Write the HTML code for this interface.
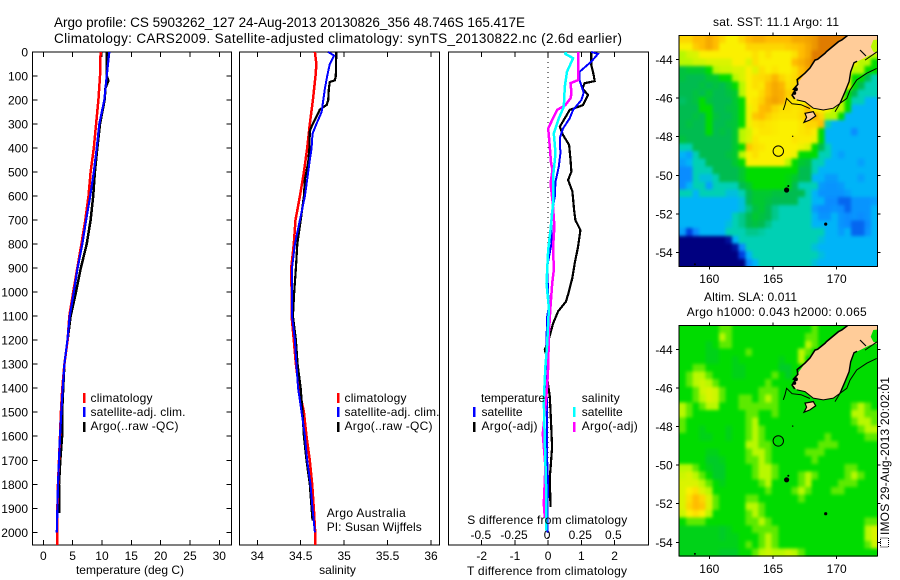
<!DOCTYPE html>
<html><head><meta charset="utf-8"><title>Argo profile</title>
<style>
html,body{margin:0;padding:0;background:#fff;width:900px;height:580px;overflow:hidden}
svg{display:block}
text{font-family:"Liberation Sans",sans-serif;font-size:12px;fill:#000}
</style></head>
<body>
<svg id="fig" width="900" height="580" viewBox="0 0 900 580">
<defs>
<filter id="mapBlur" x="-5%" y="-5%" width="110%" height="110%" color-interpolation-filters="sRGB"><feGaussianBlur stdDeviation="1.7"/></filter>
<clipPath id="clip-sst-map"><rect x="679.3" y="35.3" width="198" height="231.4"/></clipPath>
<clipPath id="clip-sla-map"><rect x="679.3" y="325.3" width="198" height="231.4"/></clipPath>
</defs>
<text x="54" y="27" style="font-size:13.5px" textLength="471">Argo profile: CS 5903262_127 24-Aug-2013 20130826_356 48.746S 165.417E</text>
<text x="54" y="43" style="font-size:13.5px" textLength="568">Climatology: CARS2009. Satellite-adjusted climatology: synTS_20130822.nc (2.6d earlier)</text>
<g id="plots"></g>
<g>
<rect x="83" y="393" width="2.5" height="10" fill="#f00"/>
<rect x="83" y="407" width="2.5" height="10" fill="#00f"/>
<rect x="83" y="422" width="2.5" height="10" fill="#000"/>
<text x="90.5" y="402" textLength="62">climatology</text>
<text x="90.5" y="416" textLength="95">satellite-adj. clim.</text>
<text x="90.5" y="430" textLength="88">Argo(..raw -QC)</text>
</g>
<g>
<rect x="337" y="393" width="2.5" height="10" fill="#f00"/>
<rect x="337" y="407" width="2.5" height="10" fill="#00f"/>
<rect x="337" y="422" width="2.5" height="10" fill="#000"/>
<text x="344.5" y="402" textLength="62">climatology</text>
<text x="344.5" y="416" textLength="95">satellite-adj. clim.</text>
<text x="344.5" y="430" textLength="88">Argo(..raw -QC)</text>
<text x="326.7" y="517" textLength="79">Argo Australia</text>
<text x="326.7" y="531" textLength="95">PI: Susan Wijffels</text>
</g>
<g>
<rect x="473" y="407" width="2.5" height="10" fill="#00f"/>
<rect x="473" y="422" width="2.5" height="10" fill="#000"/>
<rect x="573" y="407" width="2.5" height="10" fill="#0ff"/>
<rect x="573" y="422" width="2.5" height="10" fill="#f0f"/>
<text x="481" y="402" textLength="64">temperature</text>
<text x="481.5" y="416" textLength="41">satellite</text>
<text x="481.5" y="430" textLength="56">Argo(-adj)</text>
<text x="581.7" y="402" textLength="38">salinity</text>
<text x="581.7" y="416" textLength="41">satellite</text>
<text x="581.7" y="430" textLength="56">Argo(-adj)</text>
<text x="467.3" y="524" textLength="160">S difference from climatology</text>
</g>
<text x="130" y="574" text-anchor="middle">temperature (deg C)</text>
<text x="337.5" y="574" text-anchor="middle">salinity</text>
<text x="547" y="575" text-anchor="middle" textLength="160">T difference from climatology</text>
<g id="maps"></g>
<text x="776" y="26" text-anchor="middle" textLength="126">sat. SST: 11.1 Argo: 11</text>
<text x="750.5" y="301" text-anchor="middle" textLength="93">Altim. SLA: 0.011</text>
<text x="776.7" y="316" text-anchor="middle" textLength="180">Argo h1000: 0.043 h2000: 0.065</text>
<text transform="translate(889,535) rotate(-90)" textLength="158">IMOS 29-Aug-2013 20:02:01</text>
<rect x="880.5" y="538" width="8" height="9" fill="none" stroke="#000" stroke-width="1" stroke-dasharray="1 1"/>
</svg>
<script>
// ---- profile data (depth in dbar) ----
var tempRedDepth=[0,100,200,300,400,500,600,700,800,900,1000,1100,1200,1300,1400,1500,1600,1700,1800,1900,2000,2053];
var tempRed=[9.77,9.66,9.4,9.0,8.6,8.07,7.7,7.16,6.5,5.8,5.1,4.43,4.15,3.6,3.24,3.0,2.84,2.67,2.5,2.4,2.4,2.4];
var tempBlueDepth=[0,100,200,300,400,500,600,700,800,900,1000,1100,1200,1300,1400,1500,1600,1700,1800,1900,2000];
var tempBlue=[11.25,10.8,10.4,9.55,9.1,8.6,8.0,7.3,6.65,5.85,5.2,4.5,4.1,3.6,3.3,3.07,2.84,2.67,2.5,2.4,2.3];
var tempBlackDepth=[0,50,100,120,150,200,300,400,500,600,700,800,900,1000,1100,1200,1300,1400,1500,1600,1700,1800,1920];
var tempBlack=[10.8,10.8,10.8,11.08,10.6,10.45,9.66,9.2,8.8,8.5,8.07,7.4,6.4,5.57,4.66,4.15,3.6,3.4,3.2,3.2,2.9,2.67,2.67];

var salRedDepth=[0,50,100,200,300,400,500,600,700,800,900,1000,1100,1200,1300,1400,1500,1600,1700,1800,1900,2000,2053];
var salRed=[34.663,34.68,34.67,34.64,34.605,34.575,34.536,34.49,34.44,34.42,34.39,34.395,34.395,34.42,34.445,34.48,34.536,34.567,34.605,34.632,34.65,34.667,34.667];
var salBlueDepth=[0,15,50,100,150,200,250,300,340,400,450,500,600,700,800,900,1000,1100,1200,1300,1400,1500,1600,1700,1800,1900,2000];
var salBlue=[34.816,34.885,34.835,34.805,34.78,34.76,34.74,34.68,34.636,34.625,34.605,34.586,34.548,34.49,34.433,34.40,34.40,34.40,34.433,34.45,34.47,34.51,34.548,34.575,34.613,34.636,34.663];
var salBlackDepth=[0,100,118,125,150,200,220,240,270,310,330,400,460,530,600,700,800,900,1000,1100,1200,1300,1400,1500,1600,1700,1800,1900,1950];
var salBlack=[34.91,34.904,34.893,34.835,34.824,34.816,34.8,34.72,34.68,34.625,34.605,34.6,34.586,34.548,34.536,34.5,34.46,34.444,34.425,34.41,34.444,34.464,34.5,34.52,34.536,34.567,34.605,34.625,34.636];

var dTBlackDepth=[0,54,96,121,130,151,179,221,241,276,311,346,387,443,498,533,581,658,700,741,810,880,940,1010,1040,1080,1130,1170,1205,1240,1265,1360,1435,1520,1645,1720,1770,1895];
var dTBlack=[1.3,1.3,1.37,1.4,1.1,1.03,1.2,1.05,0.65,0.5,0.35,0.45,0.63,0.67,0.7,0.6,0.73,0.78,0.82,0.97,0.9,0.8,0.73,0.6,0.53,0.3,0.15,0.07,0,-0.1,-0.05,-0.03,0.05,0.08,0.12,0.08,0.05,0.07];
var dTBlueDepth=[0,8,40,82,119,169,200,241,276,318,359,422,477,540,602,679,797,894,1005,1053,1100,1200,1300,1400,1500,1600,1700,1800,1900,2000];
var dTBlue=[1.3,1.5,1.3,0.95,0.95,1.07,1.0,0.75,0.65,0.45,0.35,0.37,0.32,0.22,0.2,0.1,0.1,-0.03,0,0.03,-0.03,-0.05,-0.03,-0.05,-0.03,-0.03,-0.03,0,-0.02,-0.02];
var dSArgoDepth=[0,8,117,130,172,193,221,241,269,318,380,464,491,547,630,727,810,908,963,1060,1170,1310,1395,1505,1590,1727,1880,1940];
var dSArgo=[0.234,0.234,0.234,0.176,0.184,0.176,0.138,0.075,0.05,0.008,0.018,0.03,0.04,0.025,0.043,0.055,0.045,0.05,0.038,0.025,0.013,0.008,0,-0.018,-0.033,-0.013,-0.025,-0.018];
var dSSatDepth=[0,8,26,82,144,228,276,339,422,519,630,741,824,963,1067,1220,1310,1450,1617,1812,1992];
var dSSat=[0.14,0.138,0.196,0.15,0.133,0.126,0.088,0.05,0.063,0.045,0.045,0.025,0.008,-0.005,0.013,0,-0.013,-0.025,-0.018,-0.008,-0.005];

// ---- tick labels ----
var depthTicks=[0,100,200,300,400,500,600,700,800,900,1000,1100,1200,1300,1400,1500,1600,1700,1800,1900,2000];
var tempTicks=[0,5,10,15,20,25,30];
var salTicks=[34,34.5,35,35.5,36];
var dTTicks=[-2,-1,0,1,2];
var dSTicks=[-0.5,-0.25,0,0.25,0.5];
var lonTicks=[160,165,170];
var latTicks=[-44,-46,-48,-50,-52,-54];

// ---- coast and feature geometry (lon, lat) ----
var landLon=[170.91,173.2,173.2,172.87,172.67,172.87,173.2,172.61,171.83,171.36,171.1,170.97,170.65,170.26,169.73,168.95,168.16,167.51,166.86,166.55,166.86,167.51,168.3,169.08,170.13];
var landLat=[-42.74,-42.74,-42.98,-43.0,-43.35,-43.61,-43.69,-43.78,-44.04,-44.18,-44.64,-45.16,-45.68,-46.28,-46.53,-46.62,-46.53,-46.19,-46.1,-45.85,-45.33,-44.72,-44.04,-43.69,-43.09];
var stewartLon=[167.51,168.16,168.35,167.9,167.43,167.64];
var stewartLat=[-46.79,-46.71,-46.93,-47.14,-47.26,-47.0];
var westCoastLon=[166.7,166.5,166.75,166.6,166.95,166.9,167.5,167.9,168.3,168.5,169.08,169.2,170.13,170.4,170.91];
var westCoastLat=[-46.05,-45.85,-45.6,-45.55,-45.3,-45.05,-44.72,-44.45,-44.04,-44.0,-43.69,-43.6,-43.09,-43.0,-42.74];
var southCoastLon=[166.86,167.51,168.16,168.95,169.73,170.26];
var southCoastLat=[-46.1,-46.19,-46.53,-46.62,-46.53,-46.28];
var eastCoastLon=[170.26,170.65,170.97,171.1,171.36,171.6];
var eastCoastLat=[-46.28,-45.68,-45.16,-44.64,-44.18,-44.1];
var isobathWestLon=[165.81,165.94,166.07,166.5,167.2,167.9];
var isobathWestLat=[-46.62,-46.36,-46.02,-46.3,-46.35,-46.55];
var isobathEastLon=[169.87,170.26,170.79,171.05,171.57,172.36,173.14];
var isobathEastLat=[-46.71,-46.28,-46.02,-45.59,-45.07,-44.72,-44.47];
var spikeLon=[171.83,172.3];
var spikeLat=[-43.52,-43.83];
var northEastLineLon=[172.22,173.16];
var northEastLineLat=[-44.04,-43.61];
var islandLon=[166.07,169.14,166.55,158.87,166.2,166.8,166.68];
var islandLat=[-50.76,-52.52,-47.98,-54.6,-50.55,-45.55,-45.75];
var islandSize=[2.6,1.6,0.7,1,1,2,1.8];
var argoLon=165.417;
var argoLat=-48.746;

// ---- map grids, north to south, west to east ----
var sstGrid=[
[8.5,8.5,9,9,9.3,9,8.5,8,8,8.5,9,9.2,9.2,9,9,9,9,9.3,9.3,9.4,9.6,10,10,10,10,10,8,8,7,7],
[8,8,8.7,9,9.3,9,8,8,8,8,8.5,8.5,8.5,8.5,8.5,8.5,8.7,8.8,9,9.3,9.6,10,10,10,10,10,8,8,7,7],
[7,7.4,7.5,8,8,8,8,8,8,8,8,8.3,8,8.3,8,8,8,8.3,9,9.3,10,10,10,10,10,8,8,8,7,7],
[7,7,7.3,7.3,7.5,7.5,7.5,7.5,8,8,7.5,8.3,8,8,8,8,8,9,9.2,9.5,10,10,10,8,8,8,8,7,7,6],
[5.2,5.4,5.4,5.4,6,7,7.3,7.3,7.5,7.5,8,7.6,8.3,8,8.2,8,8,8.3,9,9.4,10,8,8,8,8,8,7,7,6,6],
[5.2,5,5,5,5.4,5.4,6,6,7,7.5,8,8.3,8.4,8.6,9.1,8.5,8.2,8.4,9,9.3,8,8,8,8,8,8,6,6,5,4],
[5,5,5,5.2,5,5.2,5,5.4,6,7,8,8.3,8.2,9,9.3,9.1,8.3,8.4,9,8,8,8,8,8,8,8,6,5,4,4],
[5,5,5.2,5,5.4,5,5,5.2,5.4,7,8,8,8.4,9,9.3,9.2,8.6,9,8,8,8,8,8,8,8,6,5,4,4,4],
[4.8,5,5.2,6,5.2,5,5,5,5.4,6,8,8.2,8.6,9.2,9.4,9.2,8.4,8.2,8,8,8,8,8,8,7,6,4,4,3,3],
[5,5,5,6,6,5,5,5.2,5.3,6,7.8,8.2,9,9.1,8.6,8.3,8.3,8.2,8.3,9,8,8,8,7,7,6,3,3,3,3],
[5,5,5.2,5,6,5.2,5,5,5.3,6,7.8,8.8,9,8.6,8.3,8.2,8.2,8.2,8.4,9,9.2,8.5,7,7,6,3,3,3,3,3],
[5,5.2,5,5,6,5,5,5.2,5.3,6,7.8,8.2,8.3,8.2,8.1,8,8,8,8.2,8.5,8.5,9,4,3,3,3,3,3,3,3],
[5,5,5,5,6,5,5.2,5,5.4,7,7.4,8,8.2,8.2,8.1,8,8,8,8.2,8.3,8.1,6,3,3,3,3,2,3,3,3],
[5.2,5,5,5,5,5,5,5,5.4,7,7.5,8.2,8,8,8,8,8,8.2,8.1,8.1,7.8,6,3,3,3,3,3,3,3,3],
[4,4,5,5,5,5,5,5,5.4,6,8.8,8.3,8.2,8,8,8,8,8,7.8,7.5,6,5,4,3,3,3,3,3,3,3],
[3,2.5,4,5,5,5,5,5.2,5.4,7,8,8.3,8,8,8,8,8,7.8,6,6,6,4,4,3,2.5,3,3,3,3,3],
[2.5,3,4,4,5,5,5,5,5.4,6,8,8,8,8,8,8,7,6,5.4,5.2,4,4,3,3,3,3,3,2.5,3,3],
[2,2,4,4,4,5,5,5,5,5.4,6,6,6,6,6,6,6,6,5,5,4,3,3,3,3,3,3,3,3,3],
[2,2,4,3.4,3.4,4,5,5,5,5.4,6,6,6,6,6,6,5.8,5.4,5,5,3,3,2.4,2.4,3,3,3,2.5,3,3],
[2,3,4,4,2.5,4,4,4,4,5,5.4,6,6,6,6,6,5.8,5,4,4,4,2.4,2.2,2.2,2.4,3,3,3,3,3],
[4,4,3,4,4,4,4,3.4,3.4,4,5,5.4,5.4,5.4,5.2,5.2,5,5,5,4,3,2.2,2.2,2.2,2.2,2.5,3,3,3,3],
[3,3,3,3,3,3,3,3,3,3.4,5,5.4,5.4,5.2,5,5,5,5,4,4,3,3,2,2,1.5,1.5,2.2,2.2,2.2,2.4],
[3,3,3,3,3,3,3,3,3,3.4,4.5,5.2,5.4,5,4.4,4,4,4,4,4,2.4,2,2,2.2,2,1.5,2.2,2.2,2.2,3],
[3,3,3,3,3,3,3,3,4,4.4,5,5.4,5.2,5,4.4,4,4,4,4,4,3,2.2,2.2,3,2.2,2,2.2,2,2.2,3],
[3,3,3,3,3,3,3,3.4,4,4.4,5,5.2,5,4.5,4,4,4,4,4,4,3,3,3,3,2.2,2,1.5,1.5,2,3],
[2.5,1,2,3,3,3,3,4,4,4,4.4,4.4,4.2,4,4,4,4,4,4,4,4,4,3,3,2.4,3,1.5,1.5,2.2,3],
[0,0,0,0,0,0,0,0.3,3,4,4,4,4,4,4,4,4,4,4,4,4,3.4,3,3,3,3,3,3,3,3],
[0,0,0,0,0,0,0,0,0.3,2,4,4,4,4,4,4,4,4,4,4,3.4,3,3,3,3,3,3,3,3,3],
[0,0,0,0,0,0,0,0,0,1,3,4,4,4,4,4,4,4,4,4,4,3.4,3,3,3,3,3,3,3,3],
[0,0,0,0,0,0,0,0,0,0,2,3,4,4,4,4,4,4,4,4,3.4,3,3,3,3,3,3,3,3,3]
];
var slaGrid=[
[6,6,6,6,6,6,6.5,6.5,6,6,6,6,6,6,6,6,6,6,6,6,6.5,6,6,6,6,6,6,6,6,6],
[6,6,6,6,6,6,7,6.5,6,6,6,6,6,6,6,6,6,6,6,6.5,6.5,6,6,6,6,6,6,6,6,6],
[6,6,6,6,5.7,6,6.5,6.5,6,6,6,6,6,6,6,6,6,6,6,7,6.5,6,6,6,6,6,6,6,6,6],
[6,6,6,6,5.7,5.7,6,6,6,6,6.5,6,6,6,6,6,6,6,7,6.5,6,6,6,6,6,6,6,6,6,6],
[6,6,6,6,5.7,5.7,6,6,5.7,6,6,6,6,6,6,5.7,6,6,7,6,6,6,6,6,6,6,6,6,6,6],
[6,6,6.5,6.5,6,6,6,6,5.7,5.7,6,6,6,6,6,5.5,5.5,6,6,6,6,6,6,6,6,6,6,6,6,6],
[6,6.5,7,7,6.5,6,6,6,5.7,5.7,6,6,6,6,6.5,6,5.5,6,6,6,6,6,6,6,6,6,6,6,6,6],
[6,6.5,7,7.3,7,6.5,6,6,6,6,6,6,6,6.5,6,6,6,6,6,6,6,6,6,6,6,6,6,6,6,6],
[6,6,6.5,7.3,7.5,7.3,6.5,6,6,6,6,6,6.5,6.5,6.5,6,6,6,6,6,6,6,6,6,6,6,6,6,6,6],
[6,6,6.5,7,7.5,7.3,6.5,6,6,6.5,6.5,6,6.5,7,6.5,6,6,6,6,6,6,6,6,6,6,6,6,6,6,6],
[7,6.5,6,6.5,7,7,6,6,6,6.5,6.5,6.5,6.5,6.5,6.5,6,6,6,6,6,6,6,6,6,6,6,6.5,7,6.5,6],
[7,6.5,6,6,6,6,6,6,6,6,6.5,6.5,6,6,6.5,6,6,6,6,6,6,6,6,6,6,6,7,7,6.5,6.5],
[6.5,6,6,6,6,6,6,6,6,6,6.5,7,6,6,6,6,6,6,6,6,6,6,6,6,6,6,6.5,7,7,6.5],
[6.5,6,6,5.7,6,6,6,5.7,6,6,6.5,7,6.5,6,6,6,6,6,6,6,6,6,6,6,6,6,6,6.5,7,7],
[6,6,6,5.7,5.7,6,6,5.7,6,6,6.5,7,6.5,6,6,6,6,6,6,6,6,6,6.5,6,6,6,6,6,6.5,6.5],
[6,6,6,6,6,6,6,6,6,6,7,7,6.5,6.5,6,6,6,6,6,6,6,6.5,6.5,6.5,6,6,6,6,6,6],
[6,6,6,6,5.7,5.7,6,6,6,6,6.5,7,7,6.5,6,6,6,6,6,6.5,6.5,6.5,6,6,6,6,6,6,6,6],
[6,6,6,6,5.5,5.5,5.7,6,6,6,6.5,6.5,7,6.5,6,6,6,6,6,6,6.5,6,6,6,6,6,6,6,6,6],
[7,7,6.5,6,5.7,5.5,5.5,6,6,6,6,6.5,7,7,6.5,6,6,6,6,6,6,6,6,6,6,6.5,6.5,6,6,6],
[7.3,7.5,7,6.5,6,5.5,5.5,6,6,6,6,6.5,7,7,6.5,6,6,6,6.5,7,6.5,6,6,6,6,6.5,7,6.5,6,6],
[7.5,7.5,7.5,7,6.5,6,5.7,6,6,6,6,6,6.5,7,6,6,6,6,6.5,7,6,6,6,6,6.5,6.5,6.5,6,6,6],
[7.5,8,8.3,7.5,7,6,6,6,6,6,6,6,6,6.5,6,6,6,6.5,7,6.5,6,6,6,6.5,6.5,6,6,6,6,6],
[7.5,8.3,9,8.5,7.5,6.5,6,6,6,6,6.5,6.5,6,6,6,6,6,6,6.5,6,6,6,6,6,6,6,6,6,6,6],
[7.5,8.5,9,8.8,7.5,6.5,6,6,6,6,7,7,6.5,6,6,6,6,6,6,6,6,6,6,6,6,6,6,6,6,6],
[7.3,8,8.3,8,7,6,6,6,6,6,6.5,7,6.5,6,6,6,6,6,6,6,6,6,6,6,6,6,6,6,6,6],
[6,6.5,6.5,6.5,6,6,6,6,6,6,6.5,6.5,7,6.5,6,6,6,6,6,6,6,6,6,6,6,6,6,6,6.5,6.5],
[5.7,5.7,5.7,5.7,5.7,5.7,5.5,5.7,6,6,6,6.5,6.5,6.5,6.5,6,6,6,6,6,6,6,6,6,6,6,6,6,7,7.5],
[5.7,5.7,5.7,5.7,5.7,5.7,5.5,5.7,5.7,6,6,6,6.5,7,6.5,6,6,6,6,6,6,6,6,6,6,6,6,6,7,7.5],
[5.7,5.7,5.7,5.7,5.7,5.7,5.7,5.7,5.7,6,6.5,6,6.5,7,6.5,6,6,6,6,6,6,6,6,6,6,6,6,6,6.5,7.3],
[5.7,5.7,5.7,5.7,5.7,5.7,5.5,5.5,5.5,6,6,6.5,7,7.3,7,7,7.3,7,6.5,6,6,6,6,6,6,6,6,6,6,6]
];

var NS='http://www.w3.org/2000/svg';
var plots=document.getElementById('plots');
var mapsG=document.getElementById('maps');
function fmt(v){return String(v);}
function scale(d0,d1,p0,p1){return function(v){return p0+(v-d0)*(p1-p0)/(d1-d0);};}
var yDepth=scale(0,2000,52,532.3);
var xTemp=scale(0,30,43.3,219.3);
var xSal=scale(34,36,257.3,431);
var xDT=scale(-2,2,481.7,614.6);
var xDS=scale(-0.5,0.5,480.9,613.4);
var xLon=scale(160,170,709.3,836.7);

function drawFrame(parent,name,x0,y0,x1,y1){
  var r=document.createElementNS(NS,'rect');
  r.setAttribute('x',x0);r.setAttribute('y',y0);
  r.setAttribute('width',x1-x0);r.setAttribute('height',y1-y0);
  r.setAttribute('fill','none');r.setAttribute('stroke','#000');
  r.setAttribute('stroke-width','1');r.setAttribute('shape-rendering','crispEdges');
  
  
  parent.appendChild(r);
}
function drawTick(parent,x0,y0,x1,y1){
  var l=document.createElementNS(NS,'line');
  l.setAttribute('x1',x0);l.setAttribute('y1',y0);l.setAttribute('x2',x1);l.setAttribute('y2',y1);
  l.setAttribute('stroke','#000');l.setAttribute('stroke-width','1');l.setAttribute('shape-rendering','crispEdges');
  
  
  parent.appendChild(l);
}
function drawLabel(parent,x,y,anchor,str){
  var t=document.createElementNS(NS,'text');
  t.setAttribute('x',x);t.setAttribute('y',y);t.setAttribute('text-anchor',anchor);
  t.textContent=str;
  
  
  parent.appendChild(t);
}
function drawProfile(parent,name,vals,depths,xf,color,w){
  var pts=[];
  for(var i=0;i<vals.length;i++){pts.push(xf(vals[i]).toFixed(1)+','+yDepth(depths[i]).toFixed(1));}
  var p=document.createElementNS(NS,'polyline');
  p.setAttribute('points',pts.join(' '));
  p.setAttribute('fill','none');p.setAttribute('stroke',color);p.setAttribute('stroke-width',w);
  p.setAttribute('shape-rendering','crispEdges');
  
  
  parent.appendChild(p);
}
function drawXAxis(parent,ticks,xf,top,bottom,labelY){
  for(var i=0;i<ticks.length;i++){
    var x=xf(ticks[i]);
    drawTick(parent,x,top,x,top+5);
    drawTick(parent,x,bottom-5,x,bottom);
    drawLabel(parent,x,labelY,'middle',fmt(ticks[i]));
  }
}
var top0=52,bot0=545;
// panel 1: temperature
drawFrame(plots,'temperature-panel-frame',32.5,top0,231.5,bot0);
drawXAxis(plots,tempTicks,xTemp,top0,bot0,560);
for(var i=0;i<depthTicks.length;i++){
  var yy=yDepth(depthTicks[i]);
  drawTick(plots,32.5,yy,37.5,yy);
  drawTick(plots,226.5,yy,231.5,yy);
  drawLabel(plots,28,yy+4.5,'end',fmt(depthTicks[i]));
}
drawProfile(plots,'temperature-argo-line',tempBlack,tempBlackDepth,xTemp,'#000',2.5);
drawProfile(plots,'temperature-climatology-line',tempRed,tempRedDepth,xTemp,'#f00',2.5);
drawProfile(plots,'temperature-satellite-line',tempBlue,tempBlueDepth,xTemp,'#00f',2.2);
// panel 2: salinity
drawFrame(plots,'salinity-panel-frame',239.5,top0,439.5,bot0);
drawXAxis(plots,salTicks,xSal,top0,bot0,560);
drawProfile(plots,'salinity-climatology-line',salRed,salRedDepth,xSal,'#f00',2.5);
drawProfile(plots,'salinity-argo-line',salBlack,salBlackDepth,xSal,'#000',2.2);
drawProfile(plots,'salinity-satellite-line',salBlue,salBlueDepth,xSal,'#00f',2);
// panel 3: differences
drawFrame(plots,'difference-panel-frame',448.5,top0,648.5,bot0);
drawXAxis(plots,dTTicks,xDT,top0,bot0,560);
for(var k=0;k<dSTicks.length;k++){
  drawLabel(plots,xDS(dSTicks[k]),539,'middle',fmt(dSTicks[k]));
}
var zero=document.createElementNS(NS,'line');
zero.setAttribute('x1',xDT(0));zero.setAttribute('x2',xDT(0));zero.setAttribute('y1',top0);zero.setAttribute('y2',bot0);
zero.setAttribute('stroke','#000');zero.setAttribute('stroke-width','1');zero.setAttribute('stroke-dasharray','1 4');zero.setAttribute('shape-rendering','crispEdges');


plots.appendChild(zero);
drawProfile(plots,'t-difference-argo-line',dTBlack,dTBlackDepth,xDT,'#000',2.2);
drawProfile(plots,'t-difference-satellite-line',dTBlue,dTBlueDepth,xDT,'#00f',2);
drawProfile(plots,'s-difference-argo-line',dSArgo,dSArgoDepth,xDS,'#f0f',2.5);
drawProfile(plots,'s-difference-satellite-line',dSSat,dSSatDepth,xDS,'#0ff',2.5);

// maps
var stops=['#000080','#0040e0','#0a8cff','#00b4f8','#00d0b4','#00bc50','#00dc00','#b8f800','#fbf000','#ffbc00','#e07c00'];
function hexToRgb(h){return [parseInt(h.substr(1,2),16),parseInt(h.substr(3,2),16),parseInt(h.substr(5,2),16)];}
function levelColor(v){
  var a=Math.max(0,Math.min(10,Math.floor(v))),b=Math.min(10,a+1),f=v-a;
  var c0=hexToRgb(stops[a]),c1=hexToRgb(stops[b]);
  return 'rgb('+Math.round(c0[0]+(c1[0]-c0[0])*f)+','+Math.round(c0[1]+(c1[1]-c0[1])*f)+','+Math.round(c0[2]+(c1[2]-c0[2])*f)+')';
}
function pointsOf(lons,lats,yf){
  var pts=[];
  for(var i=0;i<lons.length;i++){pts.push(xLon(lons[i]).toFixed(1)+','+yf(lats[i]).toFixed(1));}
  return pts.join(' ');
}
function drawMap(name,grid,yf,labelY){
  var g=document.createElementNS(NS,'g');
  
  
  mapsG.appendChild(g);
  var clipG=document.createElementNS(NS,'g');
  clipG.setAttribute('clip-path','url(#clip-'+name+')');
  
  
  g.appendChild(clipG);
  var cells=document.createElementNS(NS,'g');
  cells.setAttribute('filter','url(#mapBlur)');
  
  
  clipG.appendChild(cells);
  var lonW=157.64,lonE=173.2,latN=-42.76,latS=-54.72;
  var nRows=grid.length,nCols=grid[0].length;
  var dLon=(lonE-lonW)/nCols,dLat=(latN-latS)/nRows;
  for(var r=0;r<nRows;r++){
    for(var c=0;c<nCols;c++){
      var cell=document.createElementNS(NS,'rect');
      var x0=xLon(lonW+c*dLon),x1=xLon(lonW+(c+1)*dLon),y0=yf(latN-r*dLat),y1=yf(latN-(r+1)*dLat);
      if(c===0){x0-=8;}
      if(c===nCols-1){x1+=8;}
      if(r===0){y0-=8;}
      if(r===nRows-1){y1+=8;}
      cell.setAttribute('x',x0.toFixed(2));cell.setAttribute('y',y0.toFixed(2));
      cell.setAttribute('width',(x1-x0+0.4).toFixed(2));cell.setAttribute('height',(y1-y0+0.4).toFixed(2));
      cell.setAttribute('fill',levelColor(grid[r][c]));
      cell.setAttribute('shape-rendering','crispEdges');
      
      
      cells.appendChild(cell);
    }
  }
  var land=document.createElementNS(NS,'polygon');
  land.setAttribute('points',pointsOf(landLon,landLat,yf));
  land.setAttribute('fill','#ffcc99');
  
  
  clipG.appendChild(land);
  var st=document.createElementNS(NS,'polygon');
  st.setAttribute('points',pointsOf(stewartLon,stewartLat,yf));
  st.setAttribute('fill','#ffcc99');st.setAttribute('stroke','#000');st.setAttribute('stroke-width','1.2');
  
  
  clipG.appendChild(st);
  var lineSets=[[westCoastLon,westCoastLat,'west-coast-line',1.6],[southCoastLon,southCoastLat,'south-coast-line',1],[eastCoastLon,eastCoastLat,'east-coast-line',1.4],[isobathWestLon,isobathWestLat,'west-contour',1],[isobathEastLon,isobathEastLat,'east-contour',1],[spikeLon,spikeLat,'inland-contour',1.2],[northEastLineLon,northEastLineLat,'north-east-contour',1]];
  for(var s=0;s<lineSets.length;s++){
    var pl=document.createElementNS(NS,'polyline');
    pl.setAttribute('points',pointsOf(lineSets[s][0],lineSets[s][1],yf));
    pl.setAttribute('fill','none');pl.setAttribute('stroke','#000');pl.setAttribute('stroke-width',lineSets[s][3]);
    
    
    clipG.appendChild(pl);
  }
  for(var n=0;n<islandLon.length;n++){
    var is=document.createElementNS(NS,'circle');
    is.setAttribute('cx',xLon(islandLon[n]).toFixed(1));is.setAttribute('cy',yf(islandLat[n]).toFixed(1));
    is.setAttribute('r',islandSize[n]);is.setAttribute('fill','#000');
    
    
    clipG.appendChild(is);
  }
  var ar=document.createElementNS(NS,'circle');
  ar.setAttribute('cx',xLon(argoLon).toFixed(1));ar.setAttribute('cy',yf(argoLat).toFixed(1));
  ar.setAttribute('r','5.2');ar.setAttribute('fill','none');ar.setAttribute('stroke','#000');ar.setAttribute('stroke-width','1');
  
  
  g.appendChild(ar);
  var xa=xLon(lonW),xb=xLon(lonE),ya=yf(latN),yb=yf(latS);
  drawFrame(g,name+'-frame',xa,ya,xb,yb);
  for(var a=0;a<lonTicks.length;a++){
    var tx=xLon(lonTicks[a]);
    drawTick(g,tx,ya-3,tx,ya);
    drawTick(g,tx,yb,tx,yb+3);
    drawLabel(g,tx,labelY,'middle',fmt(lonTicks[a]));
  }
  for(var b=0;b<latTicks.length;b++){
    var ty=yf(latTicks[b]);
    drawTick(g,xa-3,ty,xa,ty);
    drawTick(g,xb,ty,xb+3,ty);
    drawLabel(g,672.7,ty+4.5,'end',fmt(latTicks[b]));
  }
}
var ySst=scale(-44,-54,59.3,252.7);
var ySla=scale(-44,-54,349.3,542.3);
drawMap('sst-map',sstGrid,ySst,283);
drawMap('sla-map',slaGrid,ySla,573);
</script>
</body></html>
